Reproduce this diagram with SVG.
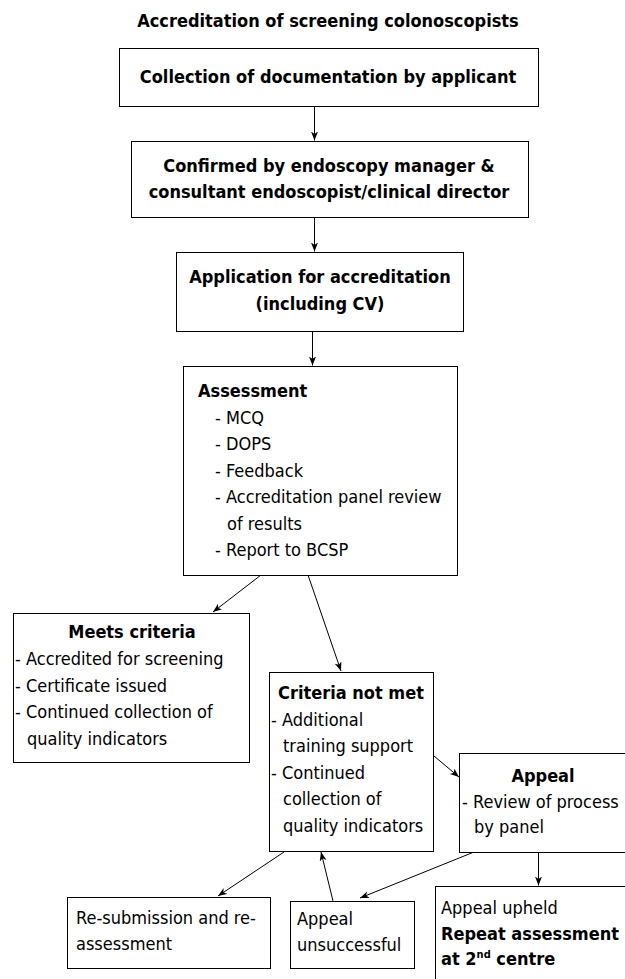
<svg xmlns="http://www.w3.org/2000/svg" width="625" height="979" viewBox="0 0 625 979">
<defs>
<style>
text{font-family:"DejaVu Sans Condensed","DejaVu Sans",sans-serif;font-stretch:condensed;font-size:18px;fill:#000}
.b{font-weight:bold}
.m{text-anchor:middle}
rect{fill:#fff;stroke:#000;stroke-width:1}
#connectors line{stroke:#000;stroke-width:1;marker-end:url(#ah)}
</style>
<marker id="ah" markerUnits="userSpaceOnUse" markerWidth="10" markerHeight="8" refX="9" refY="3.5" orient="auto">
<path d="M0,0 L9,3.5 L0,7 L2.5,3.5 z" fill="#000"/>
</marker>
</defs>
<rect x="0" y="0" width="625" height="979" style="stroke:none"/>
<text id="title" class="b m" x="328" y="27">Accreditation of screening colonoscopists</text>

<g id="connectors">
<line x1="314.5" y1="106" x2="314.5" y2="140.5"/>
<line x1="314.5" y1="217" x2="314.5" y2="251.5"/>
<line x1="312.5" y1="331" x2="312.5" y2="365.5"/>
<line x1="261" y1="575" x2="213" y2="612"/>
<line x1="308" y1="575" x2="341" y2="671"/>
<line x1="434" y1="756" x2="459" y2="777"/>
<line x1="284" y1="852" x2="218" y2="896"/>
<line x1="333" y1="901" x2="321" y2="852"/>
<line x1="474" y1="852" x2="360" y2="898"/>
<line x1="538.5" y1="852" x2="538.5" y2="885.5"/>
</g>

<g id="n1">
<rect x="119.5" y="48.5" width="419" height="58"/>
<text class="b m" x="328" y="83">Collection of documentation by applicant</text>
</g>
<g id="n2">
<rect x="131.5" y="141.5" width="397" height="76"/>
<text class="b m" x="329" y="172">Confirmed by endoscopy manager &amp;</text>
<text class="b m" x="329" y="198">consultant endoscopist/clinical director</text>
</g>
<g id="n3">
<rect x="176.5" y="252.5" width="287" height="79"/>
<text class="b m" x="320" y="283">Application for accreditation</text>
<text class="b m" x="320" y="310">(including CV)</text>
</g>
<g id="n4">
<rect x="183.5" y="366.5" width="274" height="209"/>
<text class="b" x="198" y="397">Assessment</text>
<text x="215" y="423.5">- MCQ</text>
<text x="215" y="450">- DOPS</text>
<text x="215" y="476.5">- Feedback</text>
<text x="215" y="503">- Accreditation panel review</text>
<text x="227" y="529.5">of results</text>
<text x="215" y="556">- Report to BCSP</text>
</g>
<g id="n5">
<rect x="13.5" y="613.5" width="236" height="149"/>
<text class="b m" x="132" y="638">Meets criteria</text>
<text x="15" y="665">- Accredited for screening</text>
<text x="15" y="691.5">- Certificate issued</text>
<text x="15" y="718">- Continued collection of</text>
<text x="27" y="744.5">quality indicators</text>
</g>
<g id="n6">
<rect x="269.5" y="672.5" width="164" height="179"/>
<text class="b m" x="351" y="699">Criteria not met</text>
<text x="271" y="725.5">- Additional</text>
<text x="283" y="752">training support</text>
<text x="271" y="778.5">- Continued</text>
<text x="283" y="805">collection of</text>
<text x="283" y="831.5">quality indicators</text>
</g>
<g id="n7">
<rect x="459.5" y="753.5" width="170" height="99"/>
<text class="b m" x="543" y="782">Appeal</text>
<text x="462" y="807.5">- Review of process</text>
<text x="474" y="833">by panel</text>
</g>
<g id="n8">
<rect x="67.5" y="897.5" width="203" height="71"/>
<text x="76" y="924">Re-submission and re-</text>
<text x="76" y="950">assessment</text>
</g>
<g id="n9">
<rect x="290.5" y="901.5" width="124" height="67"/>
<text x="297" y="925">Appeal</text>
<text x="297" y="951">unsuccessful</text>
</g>
<g id="n10">
<rect x="435.5" y="886.5" width="200" height="100"/>
<text x="441" y="914">Appeal upheld</text>
<text class="b" x="441" y="939.5">Repeat assessment</text>
<text class="b" x="441" y="965">at 2<tspan font-size="11" dy="-7">nd</tspan><tspan dy="7"> centre</tspan></text>
</g>
</svg>
